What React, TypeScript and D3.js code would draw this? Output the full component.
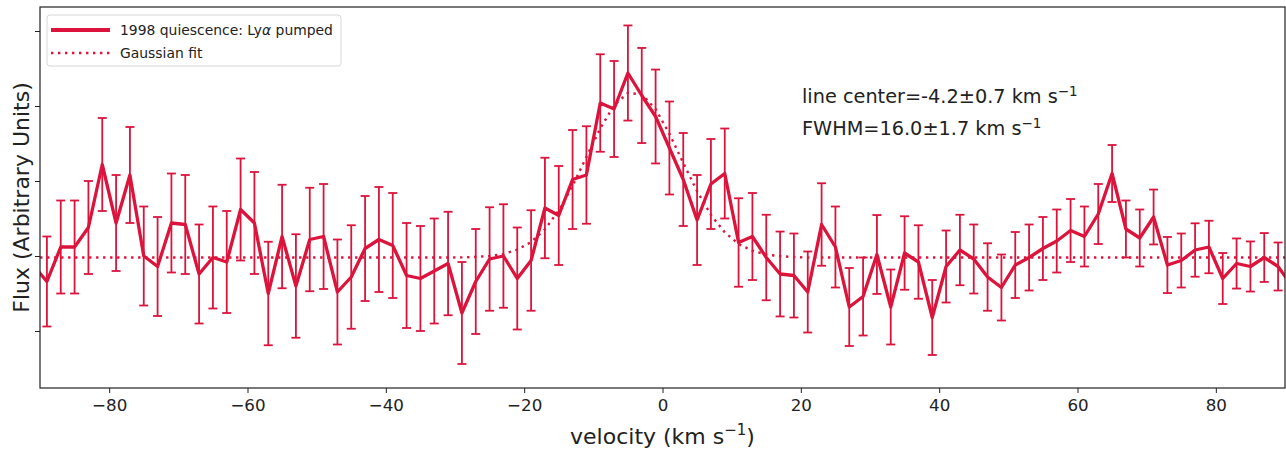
import { useEffect, useRef } from 'react';
import * as d3 from 'd3';

// velocity grid (km/s), points every 2 km/s, the outer two fall just outside the axes
const velocities = [
  -91, -89, -87, -85, -83, -81, -79, -77, -75, -73, -71, -69, -67, -65, -63, -61, -59, -57, -55, -53, -51, -49, -47,
  -45, -43, -41, -39, -37, -35, -33, -31, -29, -27, -25, -23, -21, -19, -17, -15, -13, -11, -9, -7, -5, -3, -1,
  1, 3, 5, 7, 9, 11, 13, 15, 17, 19, 21, 23, 25, 27, 29, 31, 33, 35, 37, 39, 41, 43, 45, 47, 49, 51, 53, 55,
  57, 59, 61, 63, 65, 67, 69, 71, 73, 75, 77, 79, 81, 83, 85, 87, 89, 91,
];

// 1998 quiescence: Lya pumped
const flux = [
  0.94, 0.83, 1.06, 1.06, 1.19, 1.61, 1.22, 1.54, 1.0, 0.93, 1.22, 1.21, 0.88, 0.99, 0.96, 1.31, 1.22, 0.75, 1.13, 0.8, 1.11, 1.13, 0.76,
  0.86, 1.05, 1.11, 1.07, 0.87, 0.85, 0.9, 0.95, 0.62, 0.83, 0.98, 1.0, 0.85, 0.97, 1.32, 1.27, 1.51, 1.54, 2.02, 1.98, 2.22, 2.07, 1.93,
  1.72, 1.51, 1.24, 1.48, 1.55, 1.09, 1.13, 0.99, 0.88, 0.87, 0.76, 1.21, 1.06, 0.66, 0.73, 1.01, 0.66, 1.02, 0.96, 0.59, 0.93, 1.04, 0.98, 0.86, 0.79, 0.94, 0.99, 1.05,
  1.1, 1.17, 1.13, 1.28, 1.55, 1.18, 1.12, 1.26, 0.94, 0.97, 1.04, 1.06, 0.85, 0.95, 0.93, 0.99, 0.93, 0.8,
];

const fluxErr = [
  0.3, 0.3, 0.31, 0.31, 0.31, 0.31, 0.32, 0.32, 0.33, 0.33, 0.33, 0.33, 0.33, 0.34, 0.34, 0.34, 0.34, 0.345, 0.345, 0.345, 0.345, 0.35, 0.35,
  0.345, 0.35, 0.35, 0.35, 0.35, 0.35, 0.35, 0.345, 0.34, 0.35, 0.345, 0.345, 0.34, 0.335, 0.335, 0.33, 0.33, 0.325, 0.325, 0.32, 0.317, 0.317, 0.313,
  0.31, 0.31, 0.3, 0.3, 0.3, 0.295, 0.29, 0.285, 0.283, 0.28, 0.27, 0.275, 0.27, 0.26, 0.26, 0.263, 0.25, 0.245, 0.245, 0.25, 0.24, 0.235, 0.23, 0.225, 0.22, 0.22, 0.22, 0.21,
  0.21, 0.21, 0.2, 0.2, 0.19, 0.19, 0.19, 0.183, 0.187, 0.18, 0.178, 0.175, 0.17, 0.167, 0.167, 0.163, 0.16, 0.16,
];

// Gaussian fit, sampled on the same grid
const gaussFit = [
  0.99, 0.99, 0.99, 0.99, 0.99, 0.99, 0.99, 0.99, 0.99, 0.99, 0.99, 0.99, 0.99, 0.99, 0.99, 0.99, 0.99, 0.99, 0.99, 0.99, 0.99, 0.99, 0.99,
  0.99, 0.99, 0.99, 0.99, 0.99, 0.99, 0.99, 0.99, 0.991, 0.994, 1.0, 1.014, 1.042, 1.093, 1.178, 1.303, 1.468, 1.66, 1.851, 2.005, 2.087, 2.078, 1.979,
  1.815, 1.62, 1.432, 1.274, 1.158, 1.08, 1.035, 1.01, 0.999, 0.993, 0.99, 0.99, 0.99, 0.99, 0.99, 0.99, 0.99, 0.99, 0.99, 0.99, 0.99, 0.99, 0.99, 0.99, 0.99, 0.99, 0.99, 0.99,
  0.99, 0.99, 0.99, 0.99, 0.99, 0.99, 0.99, 0.99, 0.99, 0.99, 0.99, 0.99, 0.99, 0.99, 0.99, 0.99, 0.99, 0.99,
];

const xTicks = [-80, -60, -40, -20, 0, 20, 40, 60, 80];
const yTicks = [0.5, 1.0, 1.5, 2.0, 2.5];

const COLOR = '#dc143c';
const FONT = '"DejaVu Sans", sans-serif';

const FluxChart = () => {
  const svgRef = useRef<SVGSVGElement | null>(null);

  useEffect(() => {
    const width = 1286;
    const height = 451;
    const margin = { top: 7, right: 1, bottom: 63, left: 40 };
    const innerW = width - margin.left - margin.right;
    const innerH = height - margin.top - margin.bottom;

    const svg = d3.select(svgRef.current).attr('width', width).attr('height', height);
    svg.selectAll('*').remove();

    const x = d3.scaleLinear().domain([-90, 90]).range([0, innerW]);
    const y = d3.scaleLinear().domain([0.12, 2.66]).range([innerH, 0]);

    const data = velocities.map((v, i) => ({ v, f: flux[i], e: fluxErr[i], g: gaussFit[i] }));

    svg.append('defs').append('clipPath').attr('id', 'plot-clip')
      .append('rect').attr('width', innerW).attr('height', innerH);

    const g = svg.append('g').attr('transform', `translate(${margin.left},${margin.top})`);
    const plot = g.append('g').attr('clip-path', 'url(#plot-clip)');

    // error bars
    const bars = plot.selectAll('.err').data(data).enter().append('g').attr('class', 'err')
      .attr('stroke', COLOR).attr('stroke-width', 1.8);
    bars.append('line')
      .attr('x1', d => x(d.v)).attr('x2', d => x(d.v))
      .attr('y1', d => y(d.f - d.e)).attr('y2', d => y(d.f + d.e));
    bars.append('line')
      .attr('x1', d => x(d.v) - 4.5).attr('x2', d => x(d.v) + 4.5)
      .attr('y1', d => y(d.f + d.e)).attr('y2', d => y(d.f + d.e));
    bars.append('line')
      .attr('x1', d => x(d.v) - 4.5).attr('x2', d => x(d.v) + 4.5)
      .attr('y1', d => y(d.f - d.e)).attr('y2', d => y(d.f - d.e));

    // data line
    const line = d3.line<typeof data[0]>().x(d => x(d.v)).y(d => y(d.f));
    plot.append('path').datum(data)
      .attr('d', line)
      .attr('fill', 'none')
      .attr('stroke', COLOR)
      .attr('stroke-width', 3.3)
      .attr('stroke-linejoin', 'round');

    // gaussian fit, dotted
    const fitLine = d3.line<typeof data[0]>().x(d => x(d.v)).y(d => y(d.g));
    plot.append('path').datum(data)
      .attr('d', fitLine)
      .attr('fill', 'none')
      .attr('stroke', COLOR)
      .attr('stroke-width', 2.4)
      .attr('stroke-dasharray', '2.4,4.6');

    // axes
    const xAxis = g.append('g').attr('transform', `translate(0,${innerH})`)
      .call(d3.axisBottom(x).tickValues(xTicks).tickSize(5).tickPadding(6));
    xAxis.selectAll('text').style('font-family', FONT).style('font-size', '16.7px').attr('fill', '#222');

    g.append('g').call(d3.axisLeft(y).tickValues(yTicks).tickSize(5).tickFormat(() => ''));
    g.selectAll('.domain').remove();
    g.selectAll('.tick line').attr('stroke', '#222');

    g.append('rect')
      .attr('width', innerW).attr('height', innerH)
      .attr('fill', 'none').attr('stroke', '#222').attr('stroke-width', 1.2);

    // axis labels
    const xl = svg.append('text')
      .attr('x', margin.left + x(0)).attr('y', 444)
      .attr('text-anchor', 'middle')
      .style('font-family', FONT).style('font-size', '22px').attr('fill', '#222');
    xl.append('tspan').text('velocity (km s');
    xl.append('tspan').text('−1').attr('dy', -9).style('font-size', '15px');
    xl.append('tspan').text(')').attr('dy', 9);

    svg.append('text')
      .attr('transform', `translate(29,${margin.top + innerH / 2}) rotate(-90)`)
      .attr('text-anchor', 'middle')
      .style('font-family', FONT).style('font-size', '22px').attr('fill', '#222')
      .text('Flux (Arbitrary Units)');

    // fit annotation
    const notes = ['line center=-4.2±0.7 km s', 'FWHM=16.0±1.7 km s'];
    notes.forEach((t, i) => {
      const txt = svg.append('text')
        .attr('x', 802).attr('y', 103 + i * 32)
        .style('font-family', FONT).style('font-size', '19.3px').attr('fill', '#222');
      txt.append('tspan').text(t);
      txt.append('tspan').text('−1').attr('dy', -7).style('font-size', '13.5px');
    });

    // legend
    const lg = svg.append('g');
    lg.append('rect')
      .attr('x', 47).attr('y', 15).attr('width', 294).attr('height', 51).attr('rx', 3)
      .attr('fill', 'white').attr('fill-opacity', 0.8).attr('stroke', '#d8d8d8');
    lg.append('line').attr('x1', 51).attr('x2', 110).attr('y1', 30).attr('y2', 30)
      .attr('stroke', COLOR).attr('stroke-width', 3.8);
    lg.append('line').attr('x1', 51).attr('x2', 110).attr('y1', 53).attr('y2', 53)
      .attr('stroke', COLOR).attr('stroke-width', 2.4).attr('stroke-dasharray', '2.4,4.6');
    const t1 = lg.append('text').attr('x', 120).attr('y', 35)
      .style('font-family', FONT).style('font-size', '13.9px').attr('fill', '#222');
    t1.append('tspan').text('1998 quiescence: Ly');
    t1.append('tspan').text('α').style('font-style', 'italic');
    t1.append('tspan').text(' pumped');
    lg.append('text').attr('x', 120).attr('y', 58)
      .style('font-family', FONT).style('font-size', '13.9px').attr('fill', '#222')
      .text('Gaussian fit');
  }, []);

  return <svg ref={svgRef} style={{ position: 'absolute', left: 0, top: 0, background: 'white' }} />;
};

export default function App() {
  return <FluxChart />;
}
